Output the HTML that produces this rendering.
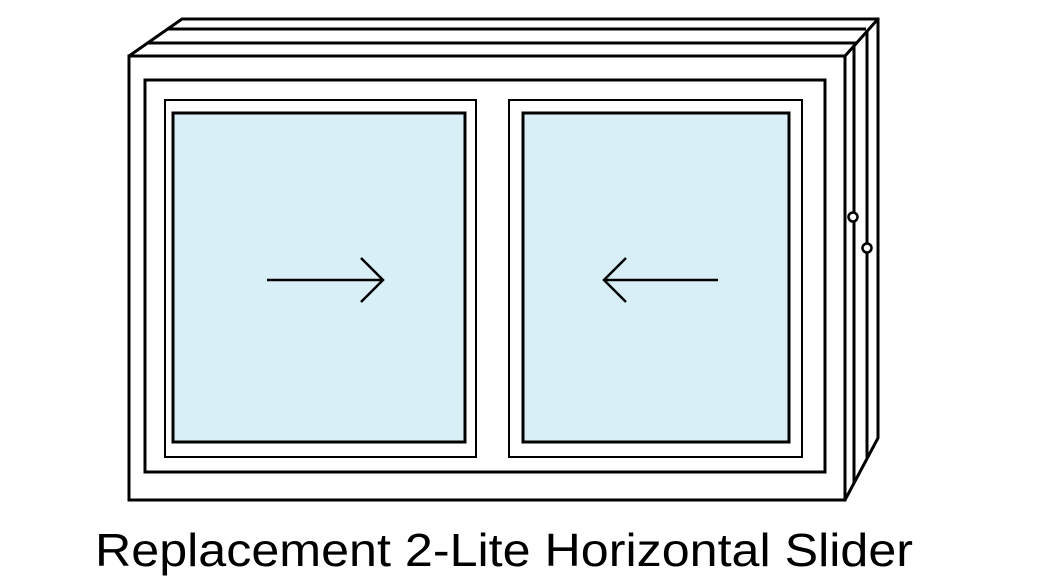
<!DOCTYPE html>
<html><head><meta charset="utf-8"><style>html,body{margin:0;padding:0;background:#fff}svg{display:block}</style></head>
<body>
<svg width="1041" height="588" viewBox="0 0 1041 588" xmlns="http://www.w3.org/2000/svg">
<g fill="none" stroke="#000" stroke-width="3" stroke-linejoin="miter">
  <polyline points="129,56 182,19 878,19 878,438 845,500"/>
  <line x1="168" y1="29" x2="866" y2="29"/>
  <line x1="148" y1="43" x2="856" y2="43"/>
  <line x1="845" y1="56" x2="878" y2="19"/>
  <line x1="854" y1="46" x2="854" y2="483"/>
  <line x1="867" y1="31" x2="867" y2="459"/>
  <rect x="129" y="56" width="716" height="444"/>
  <rect x="145" y="80" width="680" height="392"/>
  <rect x="165" y="100" width="311" height="357" stroke-width="2"/>
  <rect x="509" y="100" width="293" height="357" stroke-width="2"/>
  <rect x="173" y="113" width="292" height="329" fill="#d9eff8"/>
  <rect x="523" y="113" width="266" height="329" fill="#d9eff8"/>
  <line x1="267" y1="280" x2="382" y2="280" stroke-width="2.5"/>
  <polyline points="361,258 383,280 361,302" stroke-width="2.5"/>
  <line x1="604" y1="280" x2="718" y2="280" stroke-width="2.5"/>
  <polyline points="626,258 604,280 626,302" stroke-width="2.5"/>
  <circle cx="853" cy="217" r="4.5" fill="#fff" stroke-width="2.5"/>
  <circle cx="867" cy="248" r="4.5" fill="#fff" stroke-width="2.5"/>
</g>
<text x="95" y="566" font-family="Liberation Sans, Arial, sans-serif" font-size="46" fill="#000" textLength="818" lengthAdjust="spacingAndGlyphs">Replacement 2-Lite Horizontal Slider</text>
</svg>
</body></html>
